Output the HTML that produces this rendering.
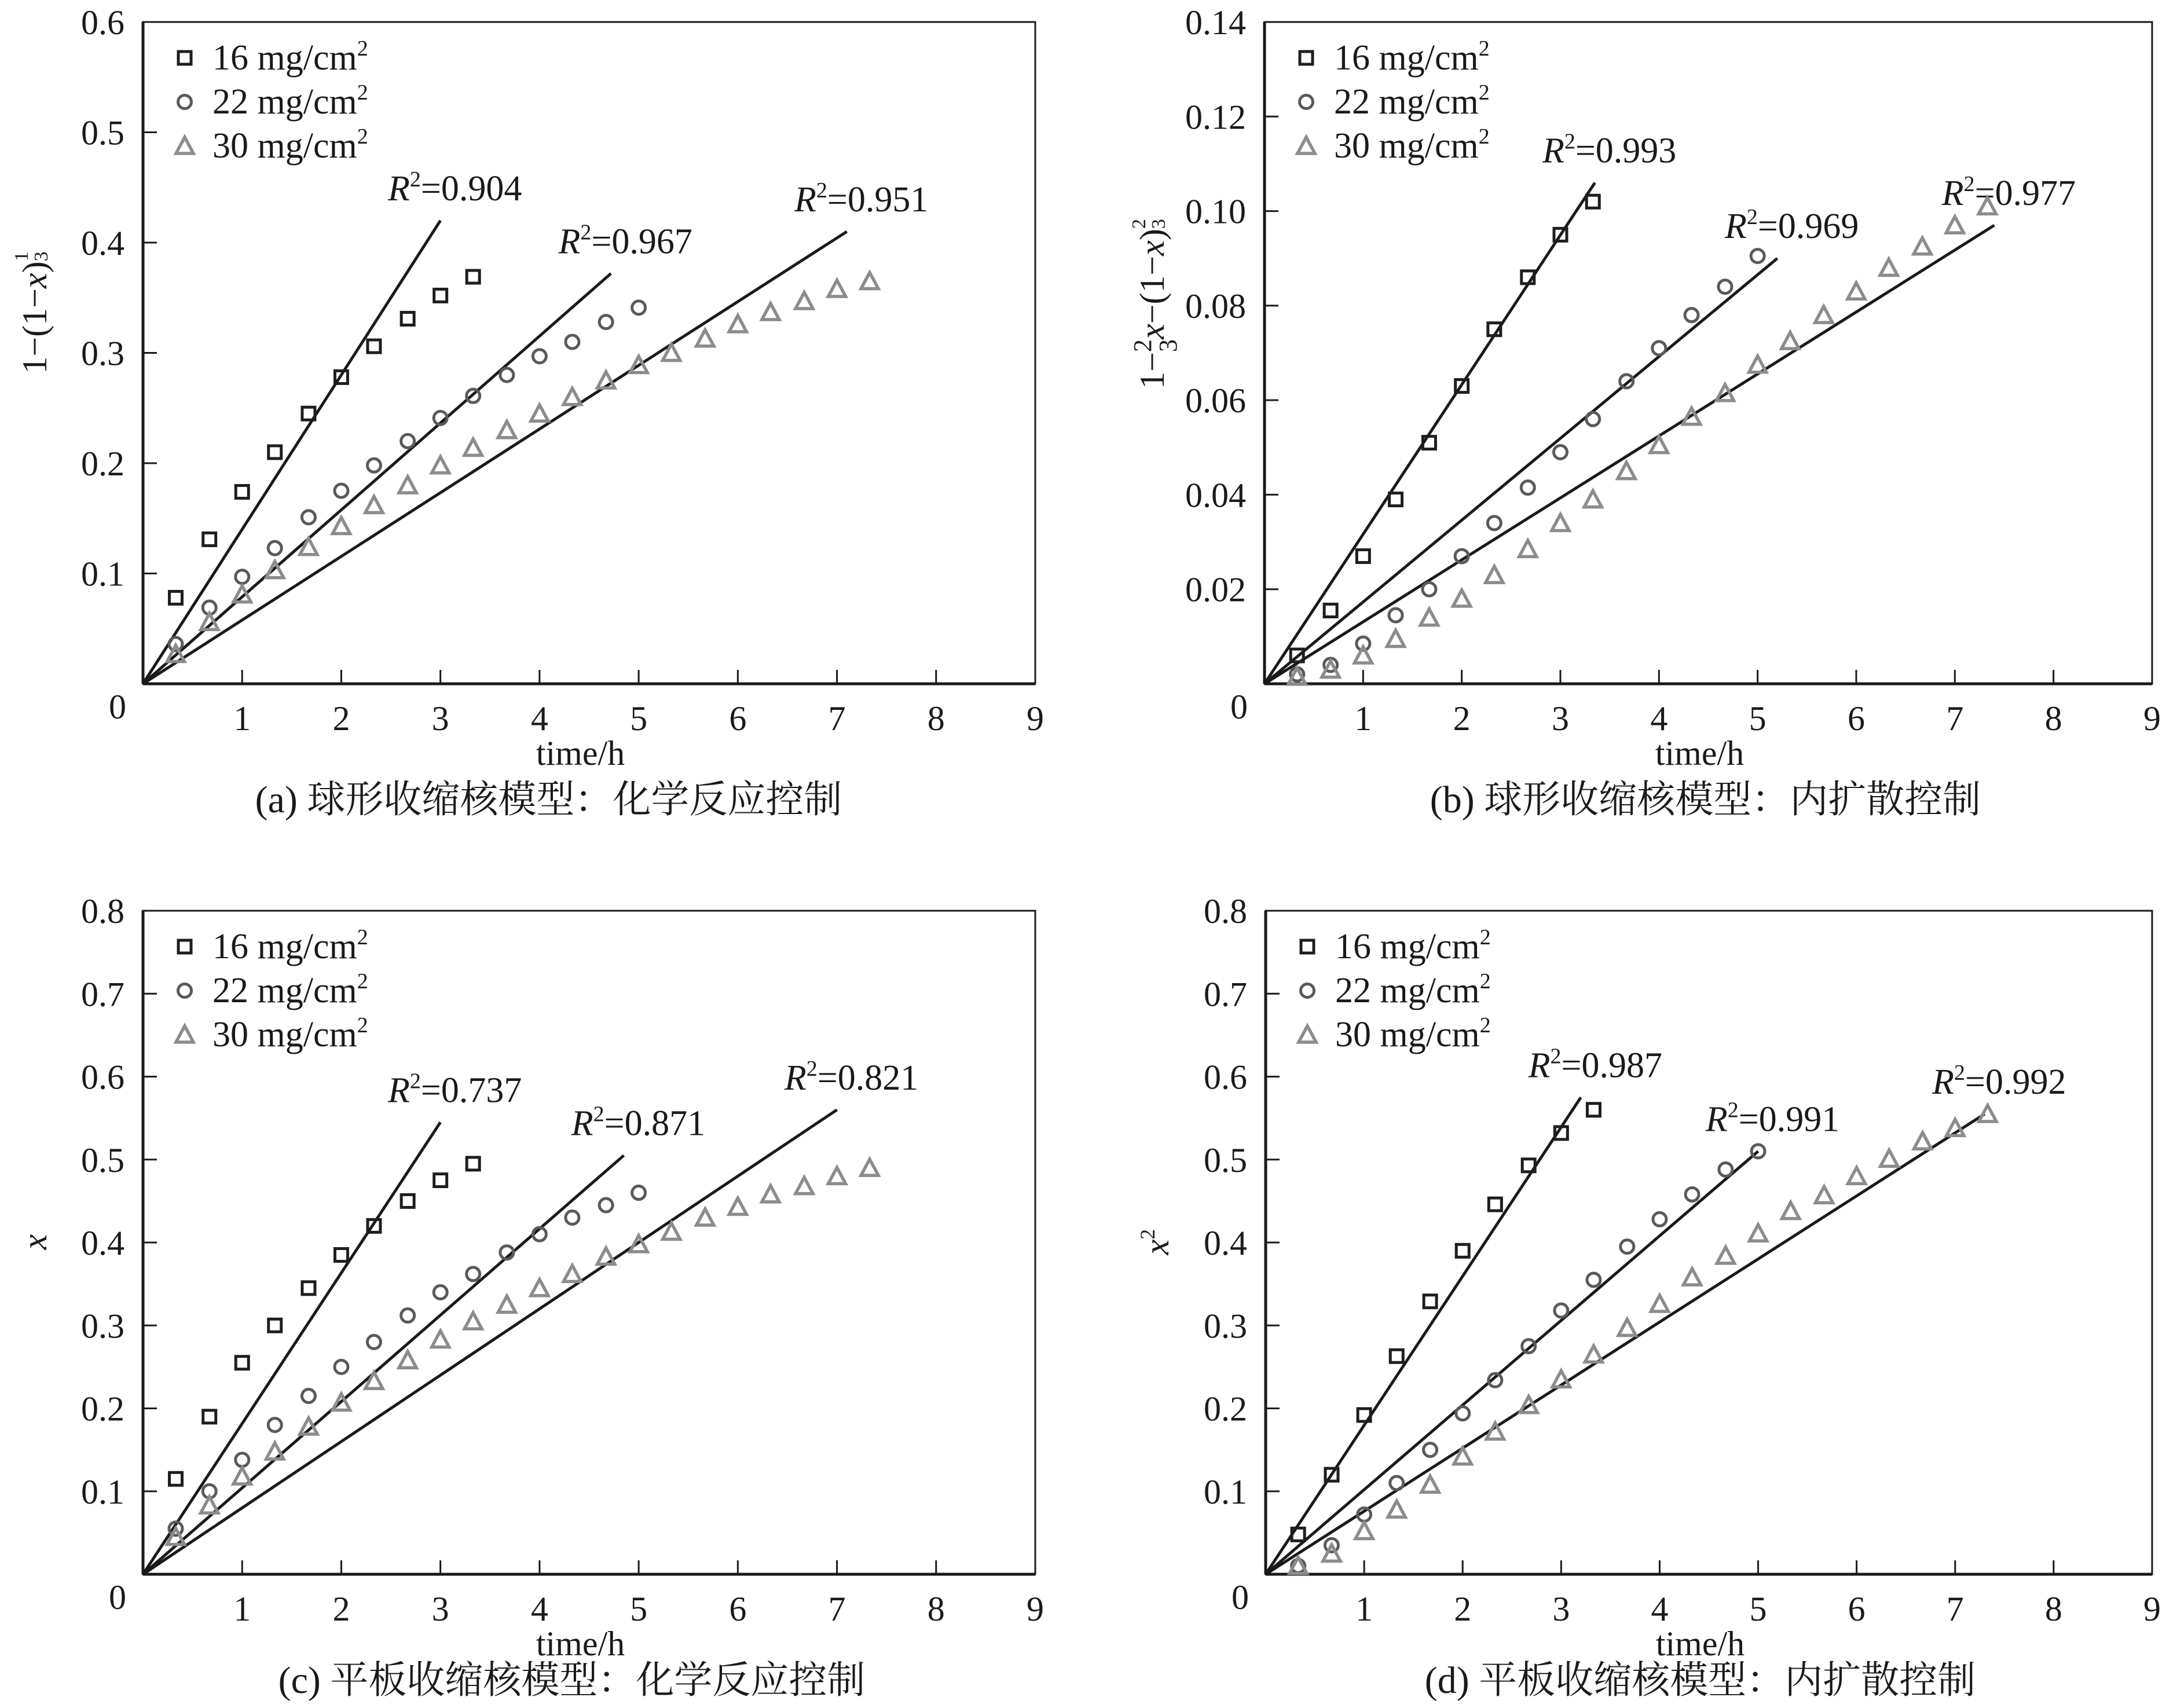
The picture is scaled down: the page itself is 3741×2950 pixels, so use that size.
<!DOCTYPE html>
<html><head><meta charset="utf-8"><style>
html,body{margin:0;padding:0;background:#fff}
svg{display:block}
text{font-family:"Liberation Serif","Noto Serif CJK SC",serif;fill:#1a1a1a}
</style></head><body>
<svg id="fig" xmlns="http://www.w3.org/2000/svg" width="3741" height="2950" viewBox="0 0 3741 2950">
<rect width="3741" height="2950" fill="#fff"/>
</svg>
<script>
// ---- data ----
const xs16 = [0.33,0.67,1,1.33,1.67,2,2.33,2.67,3,3.33];
const xs22 = [0.33,0.67,1,1.33,1.67,2,2.33,2.67,3,3.33,3.67,4,4.33,4.67,5];
const xs30 = [0.33,0.67,1,1.33,1.67,2,2.33,2.67,3,3.33,3.67,4,4.33,4.67,5,5.33,5.67,6,6.33,6.67,7,7.33];
const xTicks = [1,2,3,4,5,6,7,8,9];
const legendLabels = ["16 mg/cm","22 mg/cm","30 mg/cm"];

const a16 = [0.078,0.131,0.174,0.21,0.245,0.278,0.306,0.331,0.352,0.369];
const a22 = [0.036,0.069,0.097,0.123,0.151,0.175,0.198,0.22,0.241,0.261,0.28,0.297,0.31,0.328,0.341];
const a30 = [0.027,0.056,0.081,0.103,0.124,0.143,0.162,0.18,0.198,0.214,0.23,0.245,0.26,0.275,0.289,0.3,0.313,0.326,0.337,0.347,0.358,0.365];
const aFitEnd = [[3.0,0.42],[4.72,0.372],[7.1,0.41]];
const aR2 = ["0.904","0.967","0.951"];
const aYTicks = ["0.1","0.2","0.3","0.4","0.5","0.6"];

const b16 = [0.006,0.0155,0.027,0.039,0.051,0.063,0.075,0.086,0.095,0.102];
const b22 = [0.002,0.004,0.0085,0.0145,0.02,0.027,0.034,0.0415,0.049,0.056,0.064,0.071,0.078,0.084,0.0905];
const b30 = [0.0015,0.003,0.006,0.0095,0.014,0.018,0.023,0.0285,0.034,0.039,0.045,0.0505,0.0565,0.0615,0.0675,0.0725,0.078,0.083,0.088,0.0925,0.097,0.101];
const bFitEnd = [[3.35,0.106],[5.2,0.090],[7.4,0.097]];
const bR2 = ["0.993","0.969","0.977"];
const bYTicks = ["0.02","0.04","0.06","0.08","0.10","0.12","0.14"];

const c16 = [0.115,0.19,0.255,0.3,0.345,0.385,0.42,0.45,0.475,0.495];
const c22 = [0.055,0.1,0.138,0.18,0.215,0.25,0.28,0.312,0.34,0.362,0.388,0.41,0.43,0.445,0.46];
const c30 = [0.045,0.083,0.118,0.148,0.178,0.207,0.233,0.258,0.283,0.305,0.325,0.345,0.362,0.383,0.398,0.413,0.43,0.443,0.458,0.468,0.48,0.49];
const cFitEnd = [[3.0,0.545],[4.85,0.505],[7.0,0.56]];
const cR2 = ["0.737","0.871","0.821"];
const cYTicks = ["0.1","0.2","0.3","0.4","0.5","0.6","0.7","0.8"];

const d16 = [0.048,0.12,0.192,0.263,0.329,0.39,0.446,0.493,0.532,0.56];
const d22 = [0.01,0.035,0.072,0.11,0.15,0.194,0.234,0.275,0.318,0.355,0.395,0.428,0.458,0.488,0.51];
const d30 = [0.01,0.025,0.052,0.078,0.108,0.142,0.172,0.204,0.235,0.265,0.297,0.326,0.358,0.384,0.411,0.438,0.457,0.48,0.501,0.522,0.538,0.555];
const dFitEnd = [[3.2,0.575],[5.0,0.51],[7.3,0.555]];
const dR2 = ["0.987","0.991","0.992"];
const dYTicks = ["0.1","0.2","0.3","0.4","0.5","0.6","0.7","0.8"];

const NS = "http://www.w3.org/2000/svg";
const svg = document.getElementById('fig');
function mk(tag, attrs, parent){
  const e = document.createElementNS(NS, tag);
  for (const k in attrs) e.setAttribute(k, attrs[k]);
  (parent||svg).appendChild(e);
  return e;
}
const COLORS = ["#1e1e1e","#5a5a5a","#8c8c8c"];

function marker(g, kind, cx, cy){
  let m;
  if (kind===0){
    m = mk('rect',{x:cx-11,y:cy-11,width:22,height:22,fill:'none',stroke:COLORS[0],'stroke-width':5},g);
    
  } else if (kind===1){
    m = mk('circle',{cx:cx,cy:cy,r:11.5,fill:'none',stroke:COLORS[1],'stroke-width':5},g);
    
  } else {
    m = mk('polygon',{points:`${cx},${cy-15} ${cx+15},${cy+13} ${cx-15},${cy+13}`,fill:'none',stroke:COLORS[2],'stroke-width':5.5,'stroke-linejoin':'miter'},g);
    
  }
  
}

function panel(p){
  const g = mk('g',{});
  
  
  const L=p.L,R=p.R,T=p.T,B=p.B;
  const xS = v => L + (R-L)*v/9;
  const yS = v => B - (B-T)*v/p.ymax;
  const fr = mk('rect',{x:L,y:T,width:R-L,height:B-T,fill:'none',stroke:'#1a1a1a','stroke-width':3},g);
  
  
  mk('line',{x1:L,y1:B,x2:R,y2:B,stroke:'#1a1a1a','stroke-width':5},g);
  mk('line',{x1:L,y1:T,x2:L,y2:B,stroke:'#1a1a1a','stroke-width':5},g);
  xTicks.forEach(t=>{
    const x = xS(t);
    if (t<9) mk('line',{x1:x,y1:B,x2:x,y2:B-24,stroke:'#1a1a1a','stroke-width':3},g);
    const tx = mk('text',{x:x,y:B+80,'font-size':60,'text-anchor':'middle'},g);
    tx.textContent = t;
    
    
  });
  const z = mk('text',{x:L-44,y:B+60,'font-size':60,'text-anchor':'middle'},g);
  z.textContent='0';
  
  
  p.yt.forEach(lbl=>{
    const v = parseFloat(lbl), y = yS(v);
    mk('line',{x1:L,y1:y,x2:L+24,y2:y,stroke:'#1a1a1a','stroke-width':3},g);
    const ty = mk('text',{x:L-32,y:y+21,'font-size':60,'text-anchor':'end'},g);
    ty.textContent = lbl;
    
    
  });
  p.fits.forEach((f,i)=>{
    const ln = mk('line',{x1:xS(0),y1:yS(0),x2:xS(f[0]),y2:yS(f[1]),stroke:'#1a1a1a','stroke-width':5},g);
    
    
    const t = mk('text',{x:xS(f[0])+25,y:yS(f[1])-35,'font-size':62,'text-anchor':'middle'},g);
    
    
    const r = mk('tspan',{'font-style':'italic'},t); r.textContent='R';
    const s = mk('tspan',{'font-size':38,dy:-24},t); s.textContent='2';
    const e = mk('tspan',{dy:24},t); e.textContent='=' + p.r2[i];
  });
  [[xs16,p.s[0]],[xs22,p.s[1]],[xs30,p.s[2]]].forEach((pair,k)=>{
    const sg = mk('g',{},g);
    
    
    pair[1].forEach((v,i)=>marker(sg,k,xS(pair[0][i]),yS(v)));
  });
  const lg = mk('g',{},g);
  
  
  legendLabels.forEach((lbl,k)=>{
    const y = p.T + 62 + k*76;
    marker(lg,k,L+72,y);
    const t = mk('text',{x:L+120,y:y+20,'font-size':62},lg);
    
    
    const a = mk('tspan',{},t); a.textContent=lbl;
    const b = mk('tspan',{'font-size':38,dy:-24},t); b.textContent='2';
  });
  const xt = mk('text',{x:(L+R)/2-15,y:B+140,'font-size':60,'text-anchor':'middle'},g);
  xt.textContent='time/h';
  
  
  const cp = mk('text',{x:(L+R)/2+p.capdx,y:B+p.capdy,'font-size':66,'text-anchor':'middle'},g);
  cp.textContent=p.caption;
  
  
  const yt = mk('text',{x:0,y:0,'font-size':60,'text-anchor':'middle',transform:`translate(${p.ytx},${p.yty}) rotate(-90)`},g);
  
  
  p.ytitle(yt);
}

function ts(parent, txt, attrs){ const t = mk('tspan', attrs||{}, parent); t.textContent = txt; return t; }

panel({name:'panel-a',L:247,R:1788,T:38,B:1181,ymax:0.6,yt:aYTicks,s:[a16,a22,a30],fits:aFitEnd,r2:aR2,
  caption:'(a) 球形收缩核模型：化学反应控制',capdx:-70,capdy:222,ytx:80,yty:540,
  ytitle:t=>{ts(t,'1−(1−');ts(t,'x',{'font-style':'italic'});ts(t,')');ts(t,'1',{'font-size':34,dy:-32});ts(t,'3',{'font-size':34,dx:-17,dy:34});}});
panel({name:'panel-b',L:2184,R:3717,T:38,B:1181,ymax:0.14,yt:bYTicks,s:[b16,b22,b30],fits:bFitEnd,r2:bR2,
  caption:'(b) 球形收缩核模型：内扩散控制',capdx:-5,capdy:222,ytx:2010,yty:525,
  ytitle:t=>{ts(t,'1−');ts(t,'2',{'font-size':44,dy:-22});ts(t,'3',{'font-size':44,dx:-22,dy:44});ts(t,'x',{'font-style':'italic',dy:-22});ts(t,'−(1−');ts(t,'x',{'font-style':'italic'});ts(t,')');ts(t,'2',{'font-size':34,dy:-32});ts(t,'3',{'font-size':34,dx:-17,dy:34});}});
panel({name:'panel-c',L:247,R:1788,T:1573,B:2719,ymax:0.8,yt:cYTicks,s:[c16,c22,c30],fits:cFitEnd,r2:cR2,
  caption:'(c) 平板收缩核模型：化学反应控制',capdx:-30,capdy:205,ytx:80,yty:2145,
  ytitle:t=>{ts(t,'x',{'font-style':'italic'});}});
panel({name:'panel-d',L:2186,R:3717,T:1573,B:2719,ymax:0.8,yt:dYTicks,s:[d16,d22,d30],fits:dFitEnd,r2:dR2,
  caption:'(d) 平板收缩核模型：内扩散控制',capdx:-15,capdy:205,ytx:2018,yty:2145,
  ytitle:t=>{ts(t,'x',{'font-style':'italic'});ts(t,'2',{'font-size':36,dy:-24});}});
</script>
</body></html>
